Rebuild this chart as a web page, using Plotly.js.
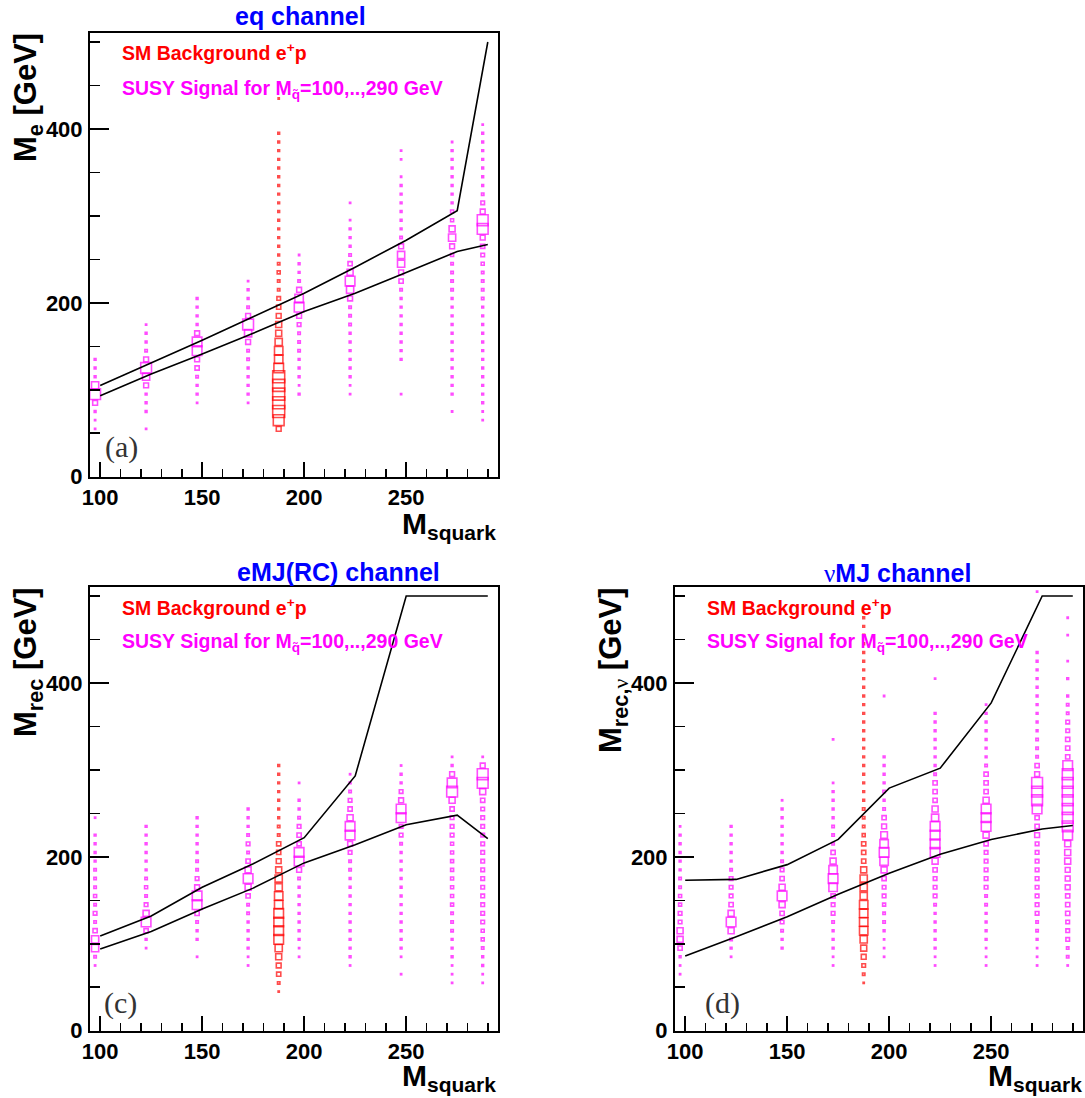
<!DOCTYPE html>
<html><head><meta charset="utf-8">
<script src="https://cdn.plot.ly/plotly-3.0.1.min.js"></script>
<style>html,body{margin:0;padding:0;background:#fff}#chart{width:1085px;height:1098px}</style>
</head><body><div id="chart"></div>
<script>
// ---------- shared ----------
const massBins = [97.5,122.5,147.5,172.5,197.5,222.5,247.5,272.5,287.5];   // signal columns
const bgBin = 187.5;                                                        // SM background column
const binWidthY = 10;
const curveMass = [100,125,150,175,200,225,250,275,290];
const xTickVals = [100,150,200,250];
const yTickVals = [0,200,400];

// ---------- panel (a): eq channel ----------
const eqSigStart = [55,55,85,85,95,95,95,75,65];
const eqSigW = [
  [1,1,1.5,4,9,6,1.5,1.5,1.5],
  [1,0,1.5,1.5,1.5,4,6,9,4,2,1.5,1.5,1],
  [1,1.5,1.5,2,3.5,4,8,8,4,1.5,1.5,1.5,1.5],
  [1,1.5,1.5,1.5,1.5,2,2,4,6,9,4,2,1.5,1.5,1],
  [1.5,1,1.5,1.5,1.5,2,2,2,3,4,8,7,4,2,1.5,1.5,1],
  [1,1,1.5,1.5,1.5,1.5,1.5,1.5,2,2,2,4,6,8,5,3.5,2,1.5,1.5,1.5,1,0,1],
  [1,0,0,0,1.5,1.5,1.5,1.5,1.5,1.5,1.5,1.5,2,3.5,4,6,6,4,2,1.5,1.5,1.5,1.5,1.5,1.5,1,0,1,1],
  [1,0,1.5,1.5,1.5,1.5,1.5,1.5,1.5,1.5,1.5,1.5,1.5,1.5,2,2,2,2,2.5,4,6,5,2.5,2.5,1.5,1.5,1.5,1.5,1.5,1.5,1.5,1],
  [1,1,1.5,1.5,1.5,1.5,1.5,1.5,1.5,1.5,1.5,1.5,1.5,1.5,2,2,2,2,2.5,3,3.5,4,9,9,4,3,2,1.5,1.5,1.5,1.5,1.5,1.5,1.5,1]
];
const eqBgStart = 55;
const eqBgW = [4,9,10,10,10,10,10,8,7,7,6,5,5,4,3.5,3,2,2,2.5,2,1.5,1.5,1.5,1.5,1.5,1.5,1.5,1.5,1.5,1.5,1.5,1.5,1.5,1.5,1.5,0,0,0,1];
const eqUpper = [105,131,157,184,211,241,272,306,500];
const eqLower = [93,118,141,165,190,211,235,259,267];

// ---------- panel (c): eMJ(RC) channel ----------
const rcSigStart = [75,95,85,75,85,75,65,55,55];
const rcSigW = [
  [1,2,6,6,3.5,2,3,2,2.5,2,2,2,1.5,1.5,1.5,1.5,0,1],
  [1,1.5,3.5,8,5,3,2,2.5,2,1.5,1.5,1.5,1.5,1.5,1.5],
  [1,0,1.5,1.5,2,3.5,8,8,4,3,2,2,1.5,1.5,1.5,1.5,1.5],
  [1,1,1.5,1.5,1.5,1.5,2,2,3.5,5,8,5,3.5,2,3,2,1.5,1.5,1.5],
  [1,1,1.5,1.5,1.5,1.5,1.5,1.5,1.5,2,4,8,8,3.5,3.5,3,2,1.5,1.5,0,1],
  [1,1.5,1.5,1.5,1.5,1.5,1.5,1.5,1.5,1.5,1.5,2,2,3,4,8,8,5,3.5,3,2,1.5,1],
  [1,0,1,1.5,1.5,1.5,1.5,1.5,1.5,1.5,1.5,1.5,1.5,1.5,1.5,2,3,3,8,8,4,3,1.5,1.5,1],
  [1,1,1,1.5,1.5,1.5,2,2,2,2.5,2.5,2.5,2.5,2.5,2.5,2.5,2.5,3,3,3,3.5,5,9,8,4,1.5,1],
  [1,1,1.5,1.5,2,2.5,2.5,3,3,3,3,3,3,3,3,3,3,3,3,3,3,3.5,5,9,9,4,1]
];
const rcBgStart = 45;
const rcBgW = [1,2,3.5,4,5,6,8,8,8,8,7,7,6,6,5,4,3.5,3.5,2,2,1.5,1.5,1.5,1.5,1.5,1.5,1.5];
const rcUpper = [109,132,165,192,222,293,500,500,500];
const rcLower = [94,114,140,164,193,214,237,248,221];

// ---------- panel (d): nuMJ channel ----------
const nuSigStart = [65,85,95,75,85,75,75,75,75];
const nuSigW = [
  [1,1,1.5,3.5,5,5,3,3,2.5,2.5,2,2,1.5,1.5,1.5,1.5,1.5,1],
  [1,1.5,2,5,8,5,3.5,3,3,3,2,1.5,1.5,1.5,1.5,1.5],
  [1.5,1.5,2,3,3.5,5,8,5,3.5,3,2,1.5,1.5,1.5,1.5,1.5,1.5,1],
  [1,1,1.5,1.5,1.5,2,3,3,3.5,7,8,7,5,3.5,2,2,2,1.5,1.5,1.5,1.5,1,0,0,0,0,1],
  [1,1,1,1.5,2,2,2.5,3,3,3.5,5,7,8,7,5.5,4,3.5,2,1.5,2,1.5,1.5,1.5,1.5,0,0,0,0,0,0,1],
  [1,1,1.5,1.5,1.5,1.5,1.5,2,3,3,3,3.5,5,8,8,8,8,6,5,3.5,3.5,3.5,2,1.5,1.5,1.5,1.5,1.5,1.5,1.5,0,0,0,1],
  [1,1,1,1.5,1.5,1.5,1.5,2,2,3,3,3,3,3,3.5,5,8,8,8,5,3.5,3.5,3.5,2,1.5,1.5,1.5,1.5,1.5,1.5,1],
  [1,1,1,1.5,2,2,3,3,3,3,3,3,3,3,3,4,3.5,3.5,8,9,9,9,4,3.5,2,2,2,1.5,1.5,1.5,1.5,1.5,1.5,1.5,1.5,1.5,1.5,0,0,0,0,0,0,1],
  [1,2,2,3,3,3,3.5,3.5,3.5,4,4,4,5,5,5,8,9,9,9,9,9,9,9,8,3.5,3.5,3.5,3,3,2,2,1.5,0,1.5,0,1,0,0,1,0,1]
];
const nuBgStart = 55;
const nuBgW = [1,2,3,4,5,6,7,7,7,7,6,6,6,5,3.5,3.5,3.5,2.5,2,2,2,
  1.5,1.5,1.5,1.5,1.5,1.5,1.5,1.5,1.5,1.5,1.5,1.5,1.5,1.5,1.5,1.5,1.5,1.5,1.5,1.5,1.5,1.5];
const nuUpper = [173,174,191,220,279,302,377,500,500];
const nuLower = [86,108,131,157,181,203,220,232,236];

// ---------- build ----------
const W = 1085, H = 1098;
const SIG = '#ff00ff', BG = '#ff0000';
const SIZE_PER_UNIT = 1.2;

function boxTrace(xs, starts, weights, color, xa, ya) {
  const x = [], y = [], s = [];
  xs.forEach((xv, i) => {
    weights[i].forEach((w, j) => {
      if (w > 0) { x.push(xv); y.push(starts[i] + binWidthY * j); s.push(w * SIZE_PER_UNIT); }
    });
  });
  return {type:'scatter', mode:'markers', x, y, xaxis:xa, yaxis:ya, hoverinfo:'skip',
    marker:{symbol:'square-open', size:s, color:color, line:{color:color, width:1.6}}};
}
function lineTrace(ys, xa, ya) {
  return {type:'scatter', mode:'lines', x:curveMass, y:ys, xaxis:xa, yaxis:ya, hoverinfo:'skip',
    line:{color:'black', width:1.6}};
}
const panels = [
  {xa:'x',  ya:'y',  ss:eqSigStart, sw:eqSigW, bs:eqBgStart, bw:eqBgW, up:eqUpper, lo:eqLower},
  {xa:'x2', ya:'y2', ss:rcSigStart, sw:rcSigW, bs:rcBgStart, bw:rcBgW, up:rcUpper, lo:rcLower},
  {xa:'x3', ya:'y3', ss:nuSigStart, sw:nuSigW, bs:nuBgStart, bw:nuBgW, up:nuUpper, lo:nuLower}
];
const traces = [];
panels.forEach(p => {
  traces.push(boxTrace(massBins, p.ss, p.sw, SIG, p.xa, p.ya));
  traces.push(boxTrace([bgBin], [p.bs], [p.bw], BG, p.xa, p.ya));
  traces.push(lineTrace(p.up, p.xa, p.ya));
  traces.push(lineTrace(p.lo, p.xa, p.ya));
});

const FONT = 'Liberation Sans, Arial, Helvetica, sans-serif';
function xAxis(l, r, anchor) {
  return {domain:[l/W, r/W], anchor, range:[95,295], tickvals:xTickVals, ticktext:xTickVals.map(String),
    ticks:'inside', ticklen:15, tickwidth:1.5, tickcolor:'black',
    showline:true, linewidth:2, linecolor:'black', mirror:true, showgrid:false, zeroline:false,
    tickfont:{family:FONT, size:22, color:'black', weight:'bold'},
    minor:{dtick:10, tick0:100, ticks:'inside', ticklen:8, tickwidth:1.5, tickcolor:'black', showgrid:false}};
}
function yAxis(bottom, top, anchor) {
  return {domain:[1-bottom/H, 1-top/H], anchor, range:[0,510], tickvals:yTickVals, ticktext:yTickVals.map(String),
    ticks:'inside', ticklen:19, tickwidth:1.5, tickcolor:'black',
    showline:true, linewidth:2, linecolor:'black', mirror:true, showgrid:false, zeroline:false,
    tickfont:{family:FONT, size:22, color:'black', weight:'bold'}, ticklabelstandoff:1,
    minor:{dtick:50, tick0:0, ticks:'inside', ticklen:10, tickwidth:1.5, tickcolor:'black', showgrid:false}};
}

function ann(text, px, py, o) {
  return Object.assign({text, x:px/W, y:1-py/H, xref:'paper', yref:'paper', showarrow:false,
    xanchor:'center', yanchor:'middle',
    font:{family:FONT, size:20, color:'black'}}, o || {});
}
const nuSpan = '<span style="font-family:Liberation Serif;font-weight:normal">ν</span>';
const XT = {family:FONT, size:30, color:'black'};
const annotations = [
  // titles
  ann('<b>eq channel</b>', 300, 16, {font:{family:FONT, size:25, color:'#0000ff'}}),
  ann('<b>eMJ(RC) channel</b>', 338, 572, {font:{family:FONT, size:25, color:'#0000ff'}}),
  ann('<b>' + nuSpan + 'MJ channel</b>', 897, 573, {font:{family:FONT, size:25, color:'#0000ff'}}),
  // legend texts
  ann('<b>SM Background e<sup>+</sup>p</b>', 120, 52, {xanchor:'left', font:{family:FONT, size:19.5, color:BG}}),
  ann('<b>SUSY Signal for M<sub>q̃</sub>=100,..,290 GeV</b>', 120, 90, {xanchor:'left', font:{family:FONT, size:19.5, color:SIG}}),
  ann('<b>SM Background e<sup>+</sup>p</b>', 120, 607, {xanchor:'left', font:{family:FONT, size:19.5, color:BG}}),
  ann('<b>SUSY Signal for M<sub>q̃</sub>=100,..,290 GeV</b>', 120, 643, {xanchor:'left', font:{family:FONT, size:19.5, color:SIG}}),
  ann('<b>SM Background e<sup>+</sup>p</b>', 705, 607, {xanchor:'left', font:{family:FONT, size:19.5, color:BG}}),
  ann('<b>SUSY Signal for M<sub>q̃</sub>=100,..,290 GeV</b>', 705, 643, {xanchor:'left', font:{family:FONT, size:19.5, color:SIG}}),
  // y titles
  ann('<b>M<sub>e</sub> [GeV]</b>', 28, 98, {textangle:-90, font:{family:FONT, size:31, color:'black'}}),
  ann('<b>M<sub>rec</sub> [GeV]</b>', 28, 662, {textangle:-90, font:{family:FONT, size:31, color:'black'}}),
  ann('<b>M<sub>rec,' + nuSpan + '</sub> [GeV]</b>', 613, 670, {textangle:-90, font:{family:FONT, size:31, color:'black'}}),
  // x titles
  ann('<b>M<sub>squark</sub></b>', 498, 526, {xanchor:'right', font:XT}),
  ann('<b>M<sub>squark</sub></b>', 498, 1077, {xanchor:'right', font:XT}),
  ann('<b>M<sub>squark</sub></b>', 1084, 1077, {xanchor:'right', font:XT}),
  // panel labels
  ann('(a)', 121, 447, {font:{family:'Liberation Serif, Times New Roman, serif', size:30, color:'#333'}}),
  ann('(c)', 120, 1003, {font:{family:'Liberation Serif, Times New Roman, serif', size:30, color:'#333'}}),
  ann('(d)', 722, 1003, {font:{family:'Liberation Serif, Times New Roman, serif', size:30, color:'#333'}})
];

const layout = {
  width:W, height:H, margin:{l:0, r:0, t:0, b:0}, showlegend:false,
  paper_bgcolor:'white', plot_bgcolor:'white',
  xaxis: xAxis(90, 498, 'y'),   yaxis: yAxis(476.7, 33.3, 'x'),
  xaxis2: xAxis(90, 498, 'y2'), yaxis2: yAxis(1030.7, 587.3, 'x2'),
  xaxis3: xAxis(675, 1083, 'y3'), yaxis3: yAxis(1030.7, 587.3, 'x3'),
  annotations
};
Plotly.newPlot('chart', traces, layout, {staticPlot:true, displayModeBar:false});
</script>
</body></html>
